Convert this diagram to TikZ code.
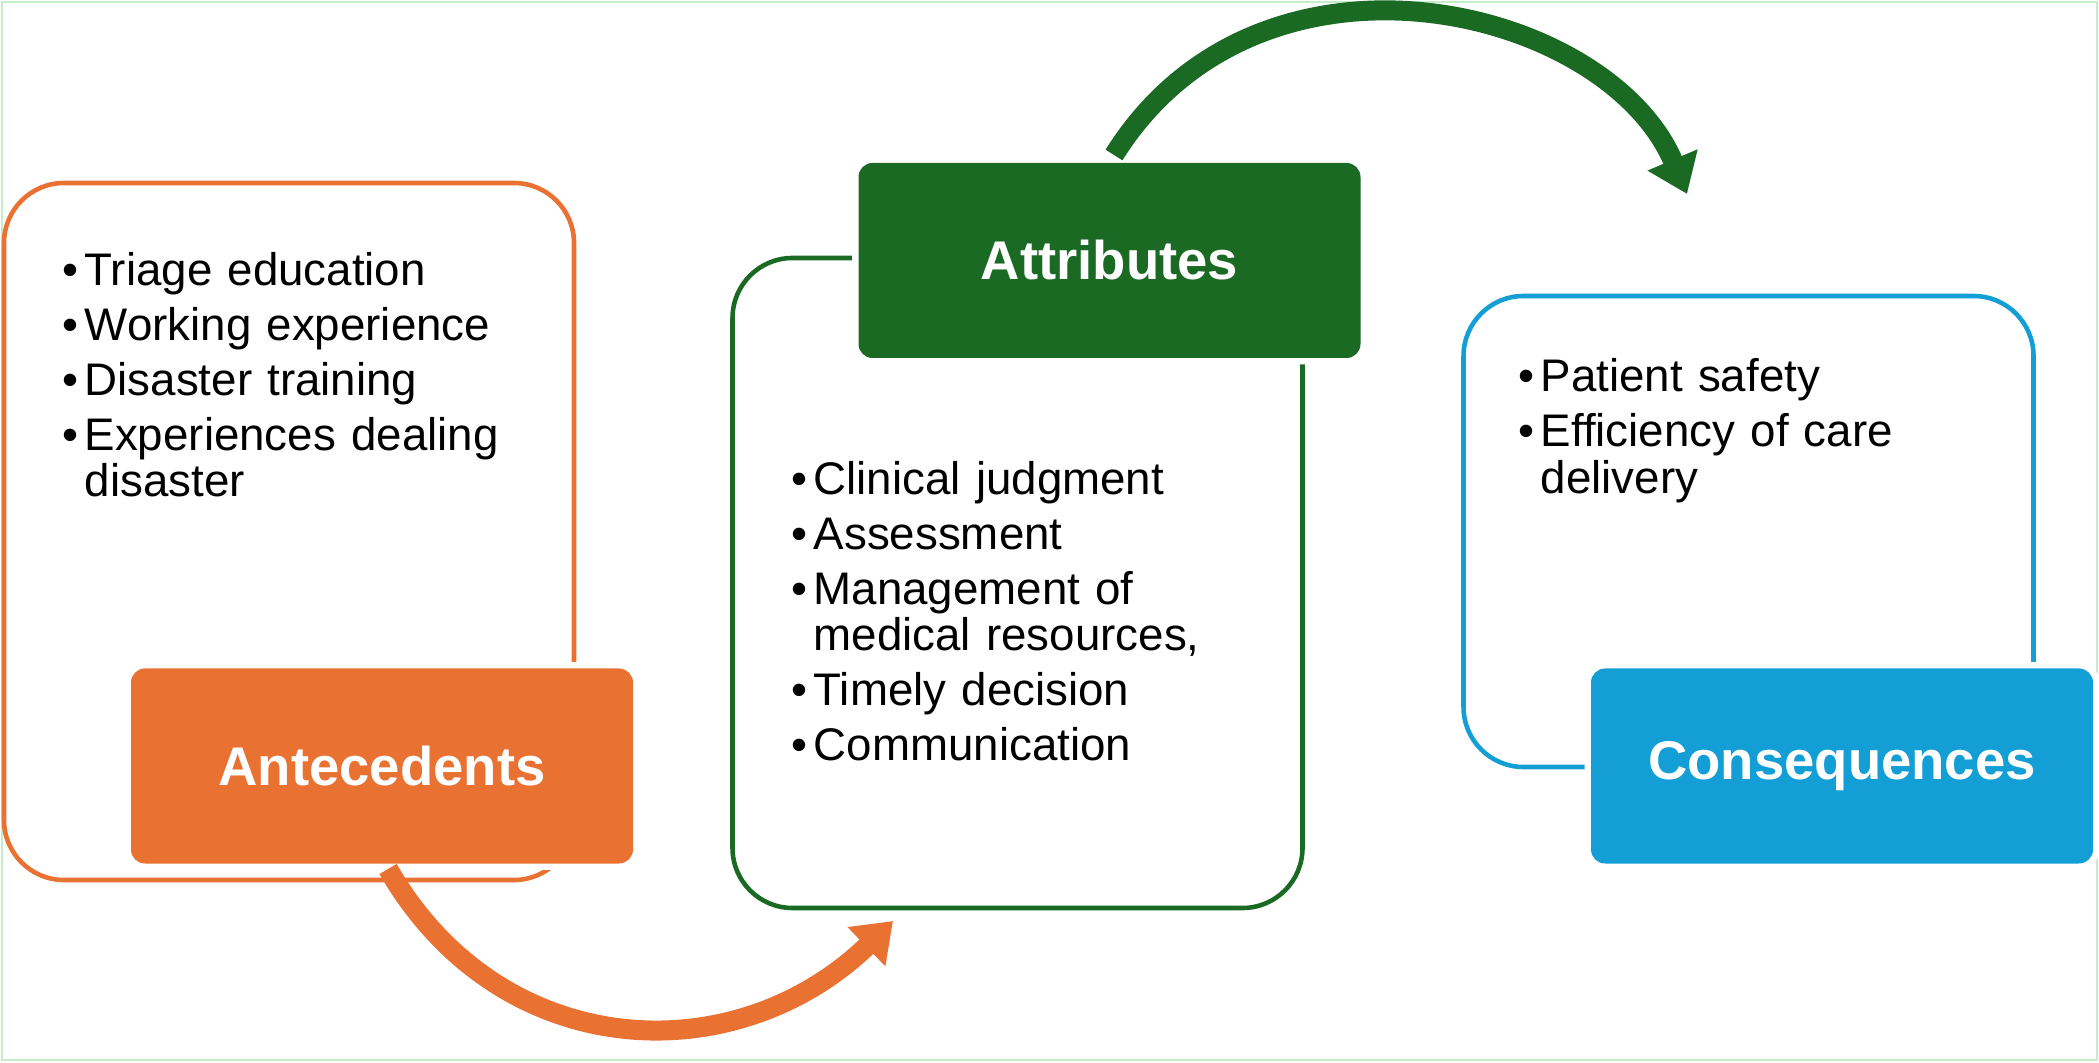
\documentclass[tikz,border=0pt]{standalone}
\usepackage{fontspec}
\setmainfont{Liberation Sans}
\usetikzlibrary{arrows.meta}
\usetikzlibrary{positioning}
\definecolor{antorange}{HTML}{E97132}
\definecolor{attgreen}{HTML}{1B6A24}
\definecolor{conblue}{HTML}{139FD6}
\definecolor{framegreen}{HTML}{C6EDC9}
\newcommand{\bitem}[1]{\hangindent=0.22cm\hangafter=1\noindent\makebox[0.22cm][l]{\textbullet}#1\par}
\tikzset{
outerbox/.style = {draw=#1, rectangle, rounded corners=0.6cm, line width=1.3pt,
                   minimum width=5.7cm},
headbox/.style = {fill=#1, rectangle, rounded corners=0.14cm, minimum width=5.02cm,
                  minimum height=1.95cm, preaction={draw=white, line width=3.6pt},
                  text=white, font=\fontsize{15.5}{18}\selectfont\bfseries},
bullets/.style = {anchor=north west, inner sep=0pt, text width=6cm,
                  font=\fontsize{13}{13.2}\selectfont,
                  execute at begin node={\setlength{\parskip}{2.4pt}}},
bigarrow/.style = {draw=#1, line width=0.2cm, -{Triangle[length=0.37cm, width=0.52cm]}}
}

\begin{document}
\begin{tikzpicture}
    \useasboundingbox (0,0) rectangle (20.99,10.62);
    \draw[framegreen, line width=0.8pt] (0.02,0.02) rectangle (20.97,10.60);

    \node[outerbox=antorange, minimum height=6.97cm] (ante) at (2.89,5.305) {};
    \node[outerbox=attgreen, minimum height=6.5cm] (attr) at (10.175,4.79) {};
    \node[outerbox=conblue, minimum height=4.71cm] (cons) at (17.485,5.305) {};

    \node[headbox=antorange] (anteH) at (3.82,2.96) {Antecedents};
    \node[headbox=attgreen] (attrH) at (11.095,8.015) {Attributes};
    \node[headbox=conblue] (consH) at (18.42,2.96) {Consequences};

    \node[bullets] (anteL) at (0.62,8.10) {\bitem{Triage education}\bitem{Working experience}%
        \bitem{Disaster training}\bitem{Experiences dealing\newline disaster}};
    \node[bullets] (attrL) at (7.91,6.01) {\bitem{Clinical judgment}\bitem{Assessment}%
        \bitem{Management of\newline medical resources,}\bitem{Timely decision}\bitem{Communication}};
    \node[bullets] (consL) at (15.18,7.04) {\bitem{Patient safety}%
        \bitem{Efficiency of care\newline delivery}};

    \coordinate (o1) at (3.88,1.93);
    \coordinate (o2) at (8.93,1.41);
    \coordinate (g1) at (11.14,9.07);
    \coordinate (g2) at (16.87,8.68);
    \draw[bigarrow=antorange] (o1) .. controls +(-60:2.25) and +(224:2.2) .. (o2);
    \draw[bigarrow=attgreen] (g1) .. controls +(58:2.75) and +(113:2.05) .. (g2);
\end{tikzpicture}
\end{document}
